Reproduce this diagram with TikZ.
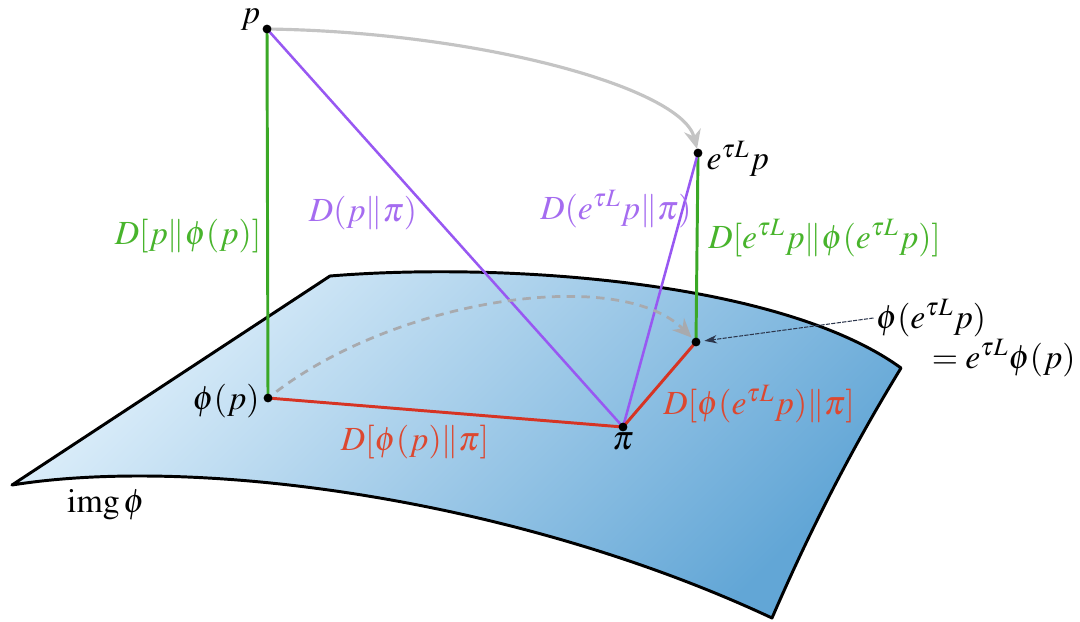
\documentclass[tikz,border=0pt]{standalone}
\usepackage{amsmath,amssymb}
\usepackage{mathptmx}
\usepackage{tikz}
\usetikzlibrary{positioning,arrows.meta}

\definecolor{kgreen}{RGB}{58,168,38}
\definecolor{kgreentxt}{RGB}{72,180,44}
\definecolor{kpurple}{RGB}{152,88,242}
\definecolor{kpurpletxt}{RGB}{165,108,240}
\definecolor{kred}{RGB}{214,52,36}
\definecolor{kredtxt}{RGB}{220,72,48}
\definecolor{surflight}{RGB}{224,240,251}
\definecolor{surfdark}{RGB}{98,166,214}
\definecolor{flowgray}{RGB}{196,196,196}
\definecolor{dashgray}{RGB}{168,170,174}
\definecolor{ptrcol}{RGB}{44,54,76}

\begin{document}
\begin{tikzpicture}[x=0.016667cm, y=-0.016667cm,
        font=\fontsize{16}{19}\selectfont,
        dot/.style={circle, fill=black, inner sep=0pt, minimum size=4.2pt},
        surf/.style={draw=black, line width=1.4pt, line join=round,
            top color=surflight, bottom color=surfdark, shading angle=45},
        gline/.style={kgreen, line width=1.4pt},
        pline/.style={kpurple, line width=1.2pt},
        rline/.style={kred, line width=1.4pt},
        flow/.style={flowgray, line width=1.5pt, -{Stealth[length=9pt, width=8pt]}},
        dashflow/.style={dashgray, line width=1.3pt, dash pattern=on 4pt off 3pt,
            -{Stealth[length=9pt, width=8pt]}},
        pointer/.style={ptrcol, line width=0.5pt, dash pattern=on 2pt off 0.6pt,
            -{Stealth[length=6pt, width=4pt]}}]
    \useasboundingbox (0,0) rectangle (1080,621);

    % points
    \coordinate (p) at (267,29);
    \coordinate (ep) at (698,153);
    \coordinate (phip) at (268,398);
    \coordinate (phiep) at (696,342);
    \coordinate (pi) at (623,427);

    % image of phi
    \path[surf] (12,485) -- (330,276) .. controls (500,262) and (780,280) .. (901,368)
        .. controls (852,448) and (810,530) .. (772,618)
        .. controls (520,500) and (200,455) .. (12,485) -- cycle;
    \node (img) at (106,505) {$\mathrm{img}\,\phi$};

    % divergences
    \draw[gline] (p) -- (phip);
    \draw[gline] (ep) -- (phiep);
    \draw[pline] (p) -- (pi);
    \draw[pline] (ep) -- (pi);
    \draw[rline] (phip) -- (pi);
    \draw[rline] (pi) -- (phiep);

    % flows
    \draw[flow, shorten >=2pt] (p) .. controls (480,32) and (682,88) .. (ep);
    \draw[dashflow, shorten <=5pt, shorten >=3pt] (phip) .. controls (400,298) and (620,266) .. (phiep);

    \foreach \c in {p,ep,phip,phiep,pi}
        \node[dot] at (\c) {};

    % point labels
    \node[anchor=base east, inner sep=1pt] at ([xshift=-2pt, yshift=2.4pt]p) {$p$};
    \node[right=1mm of ep, yshift=-1mm, inner sep=1pt] {$e^{\tau L}p$};
    \node[left=1mm of phip, yshift=-0.5mm, inner sep=1pt] {$\phi(p)$};
    \node[below=0.5mm of pi, inner sep=1pt] {$\pi$};
    \node[inner sep=1pt] (phieplab) at (931,318) {$\phi(e^{\tau L}p)$};
    \node[anchor=east, inner sep=1pt] (eqlab) at (1078,358) {$=e^{\tau L}\phi(p)$};
    \draw[pointer, shorten >=4pt] (phieplab.west) -- (phiep);

    % divergence labels
    \node[text=kgreentxt] at (188,236) {$D[p\|\phi(p)]$};
    \node[text=kpurpletxt] at (363,213) {$D(p\|\pi)$};
    \node[text=kpurpletxt] at (616,209) {$D(e^{\tau L}p\|\pi)$};
    \node[text=kgreentxt, anchor=west] at (701,238) {$D[e^{\tau L}p\|\phi(e^{\tau L}p)]$};
    \node[text=kredtxt] at (415,442) {$D[\phi(p)\|\pi]$};
    \node[text=kredtxt] at (759,404) {$D[\phi(e^{\tau L}p)\|\pi]$};
\end{tikzpicture}
\end{document}
